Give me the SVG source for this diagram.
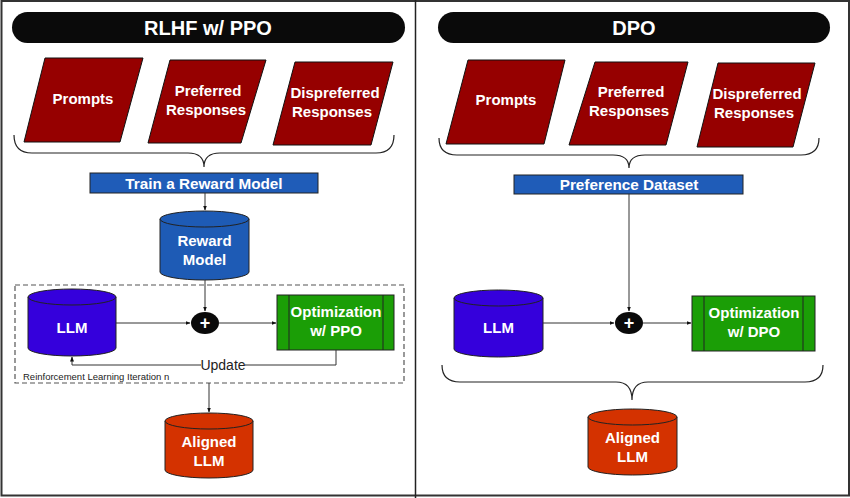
<svg xmlns="http://www.w3.org/2000/svg" width="850" height="498" viewBox="0 0 850 498">
<defs>
<style>
.t{font-family:"Liberation Sans",Arial,sans-serif;font-weight:bold;fill:#fff;text-anchor:middle}
.pill{fill:#0a0a0a}
.para{fill:#960000;stroke:#111;stroke-width:1}
.brace{fill:none;stroke:#222;stroke-width:1.2}
.bbox{fill:#1F5CB8;stroke:#222;stroke-width:1}
.cyl{stroke:#222;stroke-width:1}
.c{fill:none;stroke:#333;stroke-width:1}
.g{fill:#1B9E06;stroke:#222;stroke-width:1}
</style>
<marker id="ah" viewBox="0 0 10 10" refX="9" refY="5" markerWidth="5" markerHeight="5" orient="auto">
<path d="M0,1 L10,5 L0,9 Z" fill="#111"/>
</marker>
</defs>
<rect x="0" y="0" width="850" height="498" fill="#fff"/>
<rect x="1.5" y="1" width="847.5" height="494.5" fill="none" stroke="#333" stroke-width="2"/>
<line x1="415.5" y1="0" x2="415.5" y2="498" stroke="#222" stroke-width="1.5"/>

<!-- LEFT PANEL -->
<g id="title-rlhf">
<rect class="pill" x="12" y="12" width="393" height="31" rx="15.5"/>
<text class="t" x="208" y="34.5" font-size="20">RLHF w/ PPO</text>
</g>
<g id="l-prompts">
<polygon class="para" points="45,58 143,58 120,142 24,142"/>
<text class="t" x="83" y="104" font-size="15">Prompts</text>
</g>
<g id="l-preferred">
<polygon class="para" points="170,60 266,60 241,143 148,143"/>
<text class="t" x="208" y="96" font-size="15">Preferred</text>
<text class="t" x="206" y="115" font-size="15">Responses</text>
</g>
<g id="l-dispreferred">
<polygon class="para" points="295,62 393,62 371,145 273,145"/>
<text class="t" x="335" y="98" font-size="15">Dispreferred</text>
<text class="t" x="332" y="117" font-size="15">Responses</text>
</g>
<g id="l-brace">
<path class="brace" d="M14,135 Q14,153 32,153 L188,153 Q204,153 204,167 Q204,153 220,153 L376,153 Q394,153 394,135"/>
</g>
<g id="train-rm">
<rect class="bbox" x="90" y="173" width="228" height="20"/>
<text class="t" x="204" y="188.5" font-size="15.3">Train a Reward Model</text>
</g>
<g id="reward-model">
<path class="cyl" fill="#1E5BB5" d="M160,219 L160,272 A44.5,8 0 0 0 249,272 L249,219 Z"/>
<ellipse class="cyl" fill="#1E5BB5" cx="204.5" cy="219" rx="44.5" ry="8"/>
<text class="t" x="204.5" y="246" font-size="15">Reward</text>
<text class="t" x="204.5" y="265" font-size="15">Model</text>
</g>
<g id="rl-box">
<rect x="15" y="285" width="389" height="98" fill="none" stroke="#555" stroke-width="1.2" stroke-dasharray="5,3"/>
<text x="23" y="380" font-family="Liberation Sans,Arial,sans-serif" font-size="9.5" fill="#222">Reinforcement Learning Iteration n</text>
</g>
<g id="l-llm">
<path class="cyl" fill="#3500DC" d="M28,297 L28,348 A44,8 0 0 0 116,348 L116,297 Z"/>
<ellipse class="cyl" fill="#3500DC" cx="72" cy="297" rx="44" ry="8"/>
<text class="t" x="72" y="333" font-size="15">LLM</text>
</g>
<g id="l-plus">
<ellipse cx="205" cy="323" rx="14" ry="11" fill="#0a0a0a"/>
<text class="t" x="205" y="329" font-size="18">+</text>
</g>
<g id="l-opt">
<rect class="g" x="277" y="295" width="117" height="55"/>
<line x1="289" y1="295" x2="289" y2="350" stroke="#222" stroke-width="1"/>
<line x1="383" y1="295" x2="383" y2="350" stroke="#222" stroke-width="1"/>
<text class="t" x="336" y="317" font-size="15">Optimization</text>
<text class="t" x="336" y="336" font-size="15">w/ PPO</text>
</g>
<g id="l-aligned">
<path class="cyl" fill="#D43200" d="M165,421 L165,470 A44,8 0 0 0 253,470 L253,421 Z"/>
<ellipse class="cyl" fill="#D43200" cx="209" cy="421" rx="44" ry="8"/>
<text class="t" x="209" y="447" font-size="15">Aligned</text>
<text class="t" x="209" y="466" font-size="15">LLM</text>
</g>

<!-- RIGHT PANEL -->
<g id="title-dpo">
<rect class="pill" x="438" y="12" width="392" height="31" rx="15.5"/>
<text class="t" x="634" y="34.5" font-size="20">DPO</text>
</g>
<g id="r-prompts">
<polygon class="para" points="468,60 565,60 544,144 446,144"/>
<text class="t" x="506" y="105" font-size="15">Prompts</text>
</g>
<g id="r-preferred">
<polygon class="para" points="595,62 688,62 666,145 569,145"/>
<text class="t" x="631" y="97" font-size="15">Preferred</text>
<text class="t" x="629" y="116" font-size="15">Responses</text>
</g>
<g id="r-dispreferred">
<polygon class="para" points="718,63 815,63 793,147 697,147"/>
<text class="t" x="757" y="99" font-size="15">Dispreferred</text>
<text class="t" x="754" y="118" font-size="15">Responses</text>
</g>
<g id="r-brace">
<path class="brace" d="M439,138 Q439,155 457,155 L613,155 Q629,155 629,168 Q629,155 645,155 L801,155 Q819,155 819,138"/>
</g>
<g id="pref-dataset">
<rect class="bbox" x="514" y="175" width="229" height="19"/>
<text class="t" x="629" y="190" font-size="15.3">Preference Dataset</text>
</g>
<g id="r-llm">
<path class="cyl" fill="#3500DC" d="M454,298 L454,349 A44.5,8 0 0 0 543,349 L543,298 Z"/>
<ellipse class="cyl" fill="#3500DC" cx="498.5" cy="298" rx="44.5" ry="8"/>
<text class="t" x="498.5" y="333" font-size="15">LLM</text>
</g>
<g id="r-plus">
<ellipse cx="629" cy="323" rx="14" ry="11" fill="#0a0a0a"/>
<text class="t" x="629" y="329" font-size="18">+</text>
</g>
<g id="r-opt">
<rect class="g" x="692" y="296" width="123" height="55"/>
<line x1="704" y1="296" x2="704" y2="351" stroke="#222" stroke-width="1"/>
<line x1="803" y1="296" x2="803" y2="351" stroke="#222" stroke-width="1"/>
<text class="t" x="754" y="318" font-size="15">Optimization</text>
<text class="t" x="754" y="337" font-size="15">w/ DPO</text>
</g>
<g id="r-brace2">
<path class="brace" d="M442,365 Q442,382 460,382 L616,382 Q632,382 632,400 Q632,382 648,382 L805,382 Q823,382 823,365"/>
</g>
<g id="r-aligned">
<path class="cyl" fill="#D43200" d="M588,417 L588,467 A44.5,8 0 0 0 677,467 L677,417 Z"/>
<ellipse class="cyl" fill="#D43200" cx="632.5" cy="417" rx="44.5" ry="8"/>
<text class="t" x="632.5" y="443" font-size="15">Aligned</text>
<text class="t" x="632.5" y="462" font-size="15">LLM</text>
</g>

<!-- CONNECTORS -->
<g id="connectors">
<line class="c" x1="205" y1="193" x2="205" y2="210" marker-end="url(#ah)"/>
<line class="c" x1="205" y1="280" x2="205" y2="311" marker-end="url(#ah)"/>
<line class="c" x1="116" y1="323" x2="190" y2="323" marker-end="url(#ah)"/>
<line class="c" x1="219" y1="323" x2="276" y2="323" marker-end="url(#ah)"/>
<path class="c" d="M336,350 L336,365 L72,365 L72,357" marker-end="url(#ah)"/>
<rect x="201" y="358" width="44" height="14" fill="#fff"/>
<text x="223" y="370" font-family="Liberation Sans,Arial,sans-serif" font-size="14" fill="#222" text-anchor="middle">Update</text>
<line class="c" x1="209" y1="383" x2="209" y2="412" marker-end="url(#ah)"/>
<line class="c" x1="629" y1="194" x2="629" y2="311" stroke="#777" stroke-width="1.5" marker-end="url(#ah)"/>
<line class="c" x1="543" y1="323" x2="614" y2="323" marker-end="url(#ah)"/>
<line class="c" x1="643" y1="323" x2="691" y2="323" marker-end="url(#ah)"/>
</g>
</svg>
